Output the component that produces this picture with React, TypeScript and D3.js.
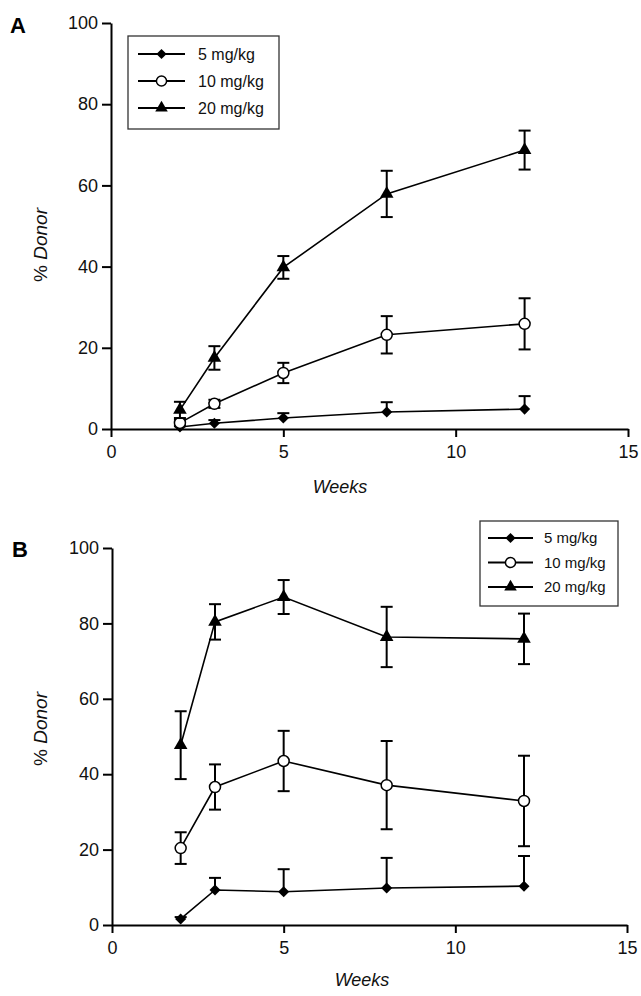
import React, { useRef, useEffect } from 'react'
import * as d3 from 'd3'

const weeks = [2, 3, 5, 8, 12]
const seriesNames = ['5 mg/kg', '10 mg/kg', '20 mg/kg']
const xTicks = [0, 5, 10, 15]
const yTicks = [0, 20, 40, 60, 80, 100]

// panel A
const a5 = [0.5, 1.4, 2.7, 4.2, 4.9]
const a5err = [0.6, 0.8, 1.2, 2.4, 3.2]
const a10 = [1.5, 6.2, 13.8, 23.2, 25.9]
const a10err = [0.8, 1.0, 2.5, 4.6, 6.3]
const a20 = [4.7, 17.5, 39.8, 57.9, 68.7]
const a20err = [2.0, 2.9, 2.8, 5.7, 4.8]

// panel B
const b5 = [1.6, 9.3, 8.8, 9.8, 10.3]
const b5err = [0.5, 3.2, 6.0, 8.0, 8.0]
const b10 = [20.4, 36.6, 43.5, 37.1, 32.9]
const b10err = [4.2, 6.0, 8.0, 11.7, 12.0]
const b20 = [47.7, 80.4, 87.0, 76.4, 75.9]
const b20err = [9.0, 4.7, 4.5, 8.0, 6.7]

const font = 'Liberation Sans, Arial, sans-serif'

function marker(sel, kind, cx, cy, scale = 1) {
  if (kind === 0) {
    sel.append('path').attr('d', d3.symbol(d3.symbolDiamond2, 78 * scale)())
      .attr('transform', `translate(${cx},${cy})`).attr('fill', '#000')
  } else if (kind === 1) {
    sel.append('circle').attr('cx', cx).attr('cy', cy).attr('r', 5.5 * Math.sqrt(scale))
      .attr('fill', '#fff').attr('stroke', '#000').attr('stroke-width', 1.5)
  } else {
    sel.append('path').attr('d', d3.symbol(d3.symbolTriangle, 80 * scale)())
      .attr('transform', `translate(${cx},${cy})`).attr('fill', '#000')
  }
}

function drawPanel(svg, p) {
  const x = d3.scaleLinear().domain([0, 15]).range(p.xr)
  const y = d3.scaleLinear().domain([0, 100]).range(p.yr)
  const g = svg.append('g')

  const yAxis = g.append('g').attr('transform', `translate(${p.xr[0]},0)`)
    .call(d3.axisLeft(y).tickValues(yTicks).tickSize(9).tickSizeOuter(0).tickPadding(4))
  const xAxis = g.append('g').attr('transform', `translate(0,${p.yr[0]})`)
    .call(d3.axisBottom(x).tickValues(xTicks).tickSize(8).tickSizeOuter(0).tickPadding(8))
  for (const ax of [xAxis, yAxis]) {
    ax.selectAll('path,line').attr('stroke', '#000').attr('stroke-width', 2)
    ax.selectAll('text').attr('font-family', font).attr('font-size', 18).attr('fill', '#111')
  }

  const series = [
    { v: p.s5, e: p.e5, upOnly: true },
    { v: p.s10, e: p.e10, upOnly: false },
    { v: p.s20, e: p.e20, upOnly: false },
  ]
  const line = d3.line().x((d, i) => x(weeks[i])).y(d => y(d))
  series.forEach((s, k) => {
    g.append('path').attr('d', line(s.v)).attr('fill', 'none')
      .attr('stroke', '#000').attr('stroke-width', 1.6)
    s.v.forEach((v, i) => {
      const cx = x(weeks[i])
      const top = y(v + s.e[i])
      const bot = s.upOnly ? y(v) : y(v - s.e[i])
      g.append('line').attr('x1', cx).attr('x2', cx).attr('y1', top).attr('y2', bot)
        .attr('stroke', '#000').attr('stroke-width', 2)
      g.append('line').attr('x1', cx - 6).attr('x2', cx + 6).attr('y1', top).attr('y2', top)
        .attr('stroke', '#000').attr('stroke-width', 2)
      if (!s.upOnly)
        g.append('line').attr('x1', cx - 6).attr('x2', cx + 6).attr('y1', bot).attr('y2', bot)
          .attr('stroke', '#000').attr('stroke-width', 2)
    })
    s.v.forEach((v, i) => marker(g, k, x(weeks[i]), y(v)))
  })

  // legend
  const L = p.legend
  g.append('rect').attr('x', L.x).attr('y', L.y).attr('width', L.w).attr('height', L.h)
    .attr('fill', '#fff').attr('stroke', '#333').attr('stroke-width', 1.3)
  seriesNames.forEach((name, k) => {
    const ry = L.y + L.r0 + k * L.dy
    g.append('line').attr('x1', L.x + L.l0).attr('x2', L.x + L.l1).attr('y1', ry).attr('y2', ry)
      .attr('stroke', '#000').attr('stroke-width', 2)
    marker(g, k, L.x + (L.l0 + L.l1) / 2, ry, 0.85)
    g.append('text').attr('x', L.x + L.tx).attr('y', ry).attr('dy', '0.35em')
      .attr('font-family', font).attr('font-size', L.fs).attr('fill', '#111').text(name)
  })

  // panel letter
  g.append('text').attr('x', p.letter[0]).attr('y', p.letter[1]).attr('font-family', font)
    .attr('font-weight', 'bold').attr('font-size', 22).text(p.name)

  // axis titles
  g.append('text').attr('x', p.weeks[0]).attr('y', p.weeks[1]).attr('text-anchor', 'middle')
    .attr('font-family', font).attr('font-style', 'italic').attr('font-size', 18).attr('fill', '#111')
    .text('Weeks')
  const yt = g.append('text').attr('transform', `translate(${p.donor[0]},${p.donor[1]}) rotate(-90)`)
    .attr('text-anchor', 'middle').attr('font-family', font).attr('font-size', 19).attr('fill', '#111')
  yt.append('tspan').text('% ')
  yt.append('tspan').attr('font-style', 'italic').text('Donor')
}

const panels = [
  {
    name: 'A', xr: [111, 628], yr: [429, 23],
    s5: a5, e5: a5err, s10: a10, e10: a10err, s20: a20, e20: a20err,
    legend: { x: 128, y: 36, w: 151, h: 93, r0: 18, dy: 27, l0: 10, l1: 57, tx: 70, fs: 16 },
    letter: [10, 33], weeks: [340, 493], donor: [47, 245],
  },
  {
    name: 'B', xr: [112, 627], yr: [925, 548],
    s5: b5, e5: b5err, s10: b10, e10: b10err, s20: b20, e20: b20err,
    legend: { x: 480, y: 521, w: 138, h: 85, r0: 17, dy: 24.5, l0: 8, l1: 53, tx: 64, fs: 15 },
    letter: [12, 557], weeks: [362, 986], donor: [47, 729],
  },
]

export default function App() {
  const ref = useRef(null)
  useEffect(() => {
    const svg = d3.select(ref.current)
    svg.selectAll('*').remove()
    panels.forEach(p => drawPanel(svg, p))
  }, [])
  return (
    <svg ref={ref} width={641} height={996}
      style={{ position: 'absolute', left: 0, top: 0, background: '#fff' }} />
  )
}
